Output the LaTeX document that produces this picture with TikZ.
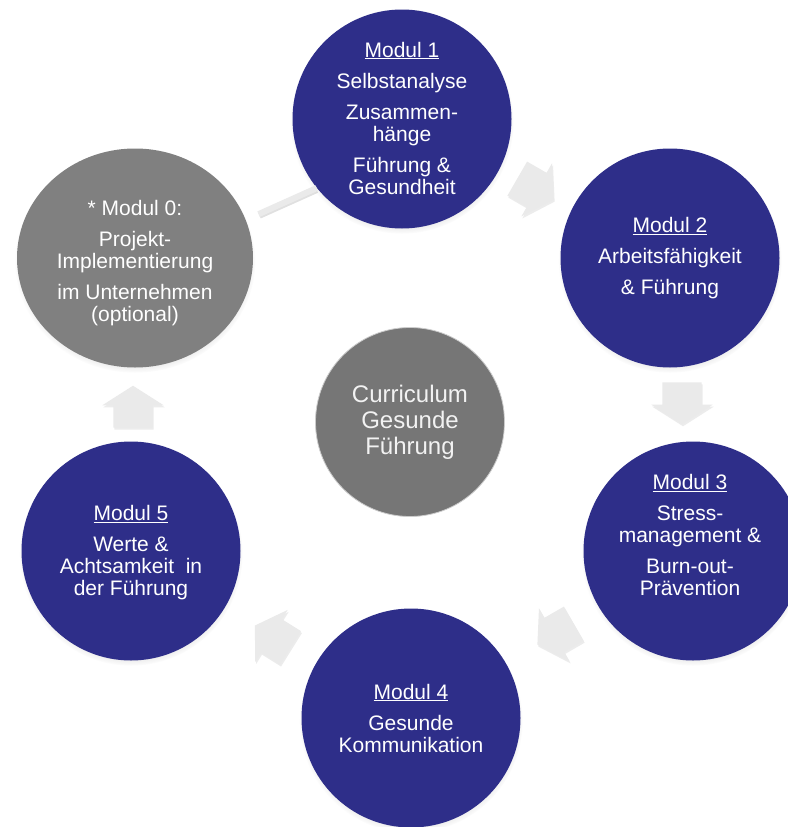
\documentclass[tikz,border=0pt]{standalone}
\usepackage{fontspec}
\setmainfont{Liberation Sans}
\usetikzlibrary{shapes.geometric,shapes.arrows,shadows}
\definecolor{modblue}{RGB}{46,46,137}
\definecolor{modgray}{RGB}{128,128,128}
\definecolor{arrowgray}{RGB}{234,234,234}
\definecolor{cgray}{RGB}{118,118,118}
\definecolor{cdark}{RGB}{68,68,68}
\definecolor{ctext}{RGB}{242,242,242}
\pgfdeclareradialshading{rimshade}{\pgfpoint{0bp}{0bp}}{color(0bp)=(cgray); color(38bp)=(cgray); color(49bp)=(cdark); color(100bp)=(cdark)}
\begin{document}
\begin{tikzpicture}[x=1pt,y=-1pt,
  modcircle/.style={circle, fill=modblue, minimum size=219pt, inner sep=0pt,
    circular drop shadow={shadow xshift=0pt, shadow yshift=-3pt, shadow scale=1.02, opacity=0.35}},
  graycircle/.style={ellipse, fill=modgray, minimum width=236pt, minimum height=219pt, inner sep=0pt,
    circular drop shadow={shadow xshift=0pt, shadow yshift=-3pt, shadow scale=1.02, opacity=0.35}},
  centercircle/.style={circle, minimum size=189pt, inner sep=0pt, shading=rimshade, draw=gray!40, line width=0.8pt},
  modtext/.style={text=white, align=center, font=\fontsize{21}{22}\selectfont, inner sep=0pt},
  centertext/.style={text=ctext, align=center, font=\fontsize{24}{26}\selectfont, inner sep=0pt},
  cyclearrow/.style={single arrow, fill=arrowgray, draw=none, inner xsep=0pt, inner ysep=19.5pt,
    minimum height=42pt, single arrow head extend=11pt, single arrow tip angle=115,
    single arrow head indent=0pt, drop shadow={shadow xshift=1pt, shadow yshift=-2pt, opacity=0.15}},
  bar/.style={line width=6pt, draw=arrowgray},
  barshadow/.style={line width=6pt, draw=black, opacity=0.12}
]
\fill[white] (0,0) rectangle (787,827);
\useasboundingbox (0,0) rectangle (787,827);

% circles
\node[modcircle] (m1) at (402,119) {};
\node[modcircle] (m2) at (670,258) {};
\node[modcircle] (m3) at (693,551) {};
\node[modcircle] (m4) at (411,718) {};
\node[modcircle] (m5) at (131,551) {};
\node[graycircle] (m0) at (135,258) {};
\node[centercircle] (c) at (410,422) {};

% texts
\node[modtext] (t1) at (402,118) {\underline{Modul 1}\\[9pt]Selbstanalyse\\[9pt]Zusammen-\\hänge\\[9pt]Führung \&\\Gesundheit};
\node[modtext] (t2) at (670,258) {\underline{Modul 2}\\[9pt]Arbeitsfähigkeit\\[9pt]\& Führung};
\node[modtext] (t3) at (690,535) {\underline{Modul 3}\\[9pt]Stress-\\management \&\\[9pt]Burn-out-\\Prävention};
\node[modtext] (t4) at (411,718) {\underline{Modul 4}\\[9pt]Gesunde\\Kommunikation};
\node[modtext] (t5) at (131,553) {\underline{Modul 5}\\[9pt]Werte \&\\Achtsamkeit\ \ in\\der Führung};
\node[modtext] (t0) at (135,263) {* Modul 0:\\[9pt]Projekt-\\Implementierung\\[9pt]im Unternehmen\\(optional)};
\node[centertext] (tc) at (410,422) {Curriculum\\Gesunde\\Führung};

% arrows
\node[cyclearrow, rotate=-30] (a12) at (530,186) {};
\node[cyclearrow, rotate=-90] (a23) at (682,397) {};
\node[cyclearrow, rotate=-150] (a34) at (561,631) {};
\node[cyclearrow, rotate=148] (a45) at (278,640) {};
\node[cyclearrow, rotate=90] (a50) at (133,413) {};

% bar from Modul 0 to Modul 1
\draw[barshadow, shorten <=15pt] ([yshift=-2pt]m0.19) -- ([yshift=-2pt]m1.219);
\draw[bar, shorten <=14pt] (m0.19) -- (m1.219);
\end{tikzpicture}
\end{document}
